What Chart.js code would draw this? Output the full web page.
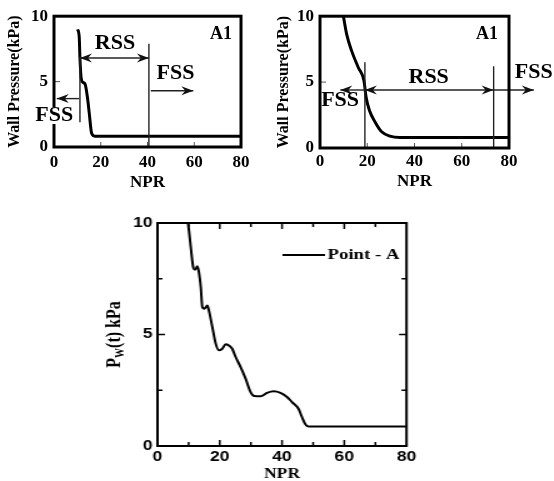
<!DOCTYPE html>
<html>
<head>
<meta charset="utf-8">
<script src="https://cdn.jsdelivr.net/npm/chart.js@4.4.1/dist/chart.umd.min.js"></script>
<style>
  html, body { margin: 0; padding: 0; background: #fff; }
  body { width: 554px; height: 481px; position: relative; overflow: hidden; }
  canvas { position: absolute; }
  #c1 { left: 0; top: 0; }
  #c2 { left: 277px; top: 0; }
  /* the lower figure is horizontally stretched in the original */
  #c3 { left: 100px; top: 200px; transform: scaleX(1.25); transform-origin: 0 0; }
</style>
</head>
<body>
<canvas id="c1" width="277" height="200"></canvas>
<canvas id="c2" width="277" height="200"></canvas>
<canvas id="c3" width="256" height="281"></canvas>
<script>
const serif = "'Liberation Serif', 'Times New Roman', serif";
const sans = "'Liberation Sans', Arial, sans-serif";

// shared axis ticks
const nprTicks = [0, 20, 40, 60, 80];
const pwTicks = [0, 5, 10];

// top-left panel
const npr1 = [10.1, 10.8, 11.1, 11.6, 12.3, 13.3, 14.3, 15.1, 16.1, 17.5, 80];
const pw1 = [9.0, 8.4, 6.8, 5.3, 4.95, 4.8, 3.8, 2.55, 1.05, 0.83, 0.83];
const sepX1 = [11.1, 40.6];
const sepTop1 = [6.9, 7.9];
const sepBot1 = [1.9, 0];
const arrFrom1 = [11.1, 41.4, 10.7];
const arrTo1 = [40.6, 59.6, 1.2];
const arrY1 = [6.8, 4.3, 3.7];
const arrBoth1 = [true, false, false];
const noteText1 = ['RSS', 'FSS', 'FSS', 'A1'];
const noteX1 = [26.1, 52, 0.1, 71.4];
const noteY1 = [7.9, 5.6, 2.4, 8.6];

// top-right panel
const npr2 = [9.9, 11.3, 13.4, 16.2, 18.6, 19.5, 20.9, 23.3, 26.1, 29.6, 33.9, 80];
const pw2 = [10, 8.62, 7.37, 6.11, 5.11, 3.86, 2.86, 1.98, 1.23, 0.9, 0.8, 0.8];
const sepX2 = [19, 73.5];
const sepTop2 = [6.5, 6.2];
const sepBot2 = [0, 0];
const arrFrom2 = [19, 19, 73.5];
const arrTo2 = [73.5, 8.6, 90.5];
const arrY2 = [4.4, 4.4, 4.4];
const arrBoth2 = [true, false, false];
const noteText2 = ['RSS', 'FSS', 'FSS', 'A1'];
const noteX2 = [46, 90.5, 8.5, 70.7];
const noteY2 = [5.4, 5.75, 3.6, 8.6];

// bottom panel
const npr3 = [9.8, 10.1, 10.7, 11.5, 12.1, 12.8, 13.3, 13.9, 14.4, 15.1, 16.0, 16.5, 17.6, 18.7, 19.7, 20.8,
  21.9, 22.9, 24.0, 25.1, 26.7, 28.3, 29.9, 31.1, 33.1, 35.2, 37.3, 39.5, 41.6, 43.2, 45.3, 46.4, 47.5, 48.5, 80];
const pw3 = [10.0, 9.67, 8.9, 8.0, 7.9, 8.06, 7.8, 7.13, 6.23, 6.16, 6.3, 6.08, 5.34, 4.59, 4.29, 4.36,
  4.56, 4.51, 4.36, 3.99, 3.54, 3.02, 2.42, 2.24, 2.23, 2.38, 2.45, 2.38, 2.2, 1.97, 1.67, 1.3, 0.97, 0.88, 0.88];
const minorX3 = [10, 30, 50, 70];
const minorY3 = [2.5, 7.5];
const seriesName3 = 'Point - A';

function arrowHead(ctx, px, py, dir) {
  ctx.beginPath();
  ctx.moveTo(px, py);
  ctx.lineTo(px - dir * 12, py - 4.5);
  ctx.lineTo(px - dir * 8, py);
  ctx.lineTo(px - dir * 12, py + 4.5);
  ctx.closePath();
  ctx.fill();
}

function topDecor(d) {
  return {
    id: 'topDecor',
    afterDatasetsDraw(chart) {
      const { ctx, chartArea: a, scales: { x, y } } = chart;
      ctx.save();
      ctx.strokeStyle = '#222';
      ctx.fillStyle = '#111';
      ctx.lineWidth = 1.4;
      d.sepX.forEach((v, i) => {
        const px = x.getPixelForValue(v);
        ctx.beginPath();
        ctx.moveTo(px, y.getPixelForValue(d.sepTop[i]));
        ctx.lineTo(px, y.getPixelForValue(d.sepBot[i]));
        ctx.stroke();
      });
      d.arrFrom.forEach((v, i) => {
        const x0 = x.getPixelForValue(v), x1 = x.getPixelForValue(d.arrTo[i]);
        const py = y.getPixelForValue(d.arrY[i]);
        ctx.beginPath();
        ctx.moveTo(x0, py);
        ctx.lineTo(x1, py);
        ctx.stroke();
        arrowHead(ctx, x1, py, Math.sign(x1 - x0));
        if (d.arrBoth[i]) arrowHead(ctx, x0, py, Math.sign(x0 - x1));
      });

      // small inward ticks
      ctx.strokeStyle = '#555';
      ctx.lineWidth = 1;
      [20, 40, 60].forEach(v => {
        const px = x.getPixelForValue(v);
        ctx.beginPath(); ctx.moveTo(px, a.bottom); ctx.lineTo(px, a.bottom - 5); ctx.stroke();
      });
      const p5 = y.getPixelForValue(5);
      ctx.beginPath(); ctx.moveTo(a.left, p5); ctx.lineTo(a.left + 6, p5); ctx.stroke();

      // frame
      ctx.strokeStyle = '#000';
      ctx.lineWidth = 3;
      ctx.strokeRect(a.left, a.top, a.right - a.left, a.bottom - a.top);

      // labels
      ctx.textAlign = 'center';
      ctx.textBaseline = 'middle';
      d.noteText.forEach((t, i) => {
        const px = x.getPixelForValue(d.noteX[i]), py = y.getPixelForValue(d.noteY[i]);
        const size = t === 'A1' ? 18 : 22;
        ctx.font = `bold ${size}px ${serif}`;
        if (d.whiteBg) {
          const w = ctx.measureText(t).width;
          ctx.fillStyle = '#fff';
          ctx.fillRect(px - w / 2 - 1, py - size * 0.38, w + 2, size * 0.76);
        }
        ctx.fillStyle = '#000';
        ctx.fillText(t, px, py);
      });
      ctx.restore();
    }
  };
}

function topChart(id, npr, pw, lay, decor) {
  return new Chart(document.getElementById(id), {
    type: 'line',
    data: {
      datasets: [{
        data: npr.map((v, i) => ({ x: v, y: pw[i] })),
        borderColor: '#000',
        borderWidth: 3,
        pointRadius: 0,
        cubicInterpolationMode: 'monotone'
      }]
    },
    options: {
      responsive: false,
      animation: false,
      events: [],
      layout: { padding: { left: 0, top: 15, right: lay.right, bottom: 0 } },
      plugins: { legend: { display: false }, tooltip: { enabled: false } },
      scales: {
        x: {
          type: 'linear', min: 0, max: 80,
          afterBuildTicks: s => { s.ticks = nprTicks.map(v => ({ value: v })); },
          afterFit: s => { s.height = lay.xH; },
          grid: { display: false, drawTicks: false },
          border: { display: false },
          ticks: { color: '#000', padding: lay.xTickPad, maxRotation: 0, font: { family: serif, size: 17, weight: 'bold' } },
          title: { display: true, text: 'NPR', color: '#000', padding: { top: 0, bottom: lay.xTitlePad },
            font: { family: serif, size: 17, weight: 'bold' } }
        },
        y: {
          type: 'linear', min: 0, max: 10,
          afterBuildTicks: s => { s.ticks = pwTicks.map(v => ({ value: v })); },
          afterFit: s => { s.width = lay.yW; },
          grid: { display: false, drawTicks: false },
          border: { display: false },
          ticks: { color: '#000', padding: 6, font: { family: serif, size: 17, weight: 'bold' } },
          title: { display: true, text: 'Wall Pressure(kPa)', color: '#000', padding: { top: lay.yTitlePad, bottom: 0 },
            font: { family: serif, size: 16, weight: 'bold', lineHeight: lay.yTitleLH } }
        }
      }
    },
    plugins: [decor]
  });
}

topChart('c1', npr1, pw1,
  { right: 36, xH: 53, yW: 54, xTickPad: 5, xTitlePad: 7, yTitlePad: 5, yTitleLH: 1.2 },
  topDecor({ sepX: sepX1, sepTop: sepTop1, sepBot: sepBot1, arrFrom: arrFrom1, arrTo: arrTo1, arrY: arrY1,
    arrBoth: arrBoth1, noteText: noteText1, noteX: noteX1, noteY: noteY1, whiteBg: true }));

topChart('c2', npr2, pw2,
  { right: 45, xH: 52, yW: 43, xTickPad: 3, xTitlePad: 8, yTitlePad: 0, yTitleLH: 0.8 },
  topDecor({ sepX: sepX2, sepTop: sepTop2, sepBot: sepBot2, arrFrom: arrFrom2, arrTo: arrTo2, arrY: arrY2,
    arrBoth: arrBoth2, noteText: noteText2, noteX: noteX2, noteY: noteY2, whiteBg: false }));

// bottom panel: frame, mirrored inward ticks, y title with subscript, inset legend
const bottomDecor = {
  id: 'bottomDecor',
  afterDatasetsDraw(chart) {
    const { ctx, chartArea: a, scales: { x, y } } = chart;
    ctx.save();
    ctx.strokeStyle = '#000';
    ctx.lineWidth = 1.5;
    const tick = (x0, y0, x1, y1) => { ctx.beginPath(); ctx.moveTo(x0, y0); ctx.lineTo(x1, y1); ctx.stroke(); };
    [20, 40, 60].forEach(v => { const p = x.getPixelForValue(v); tick(p, a.bottom, p, a.bottom - 6); tick(p, a.top, p, a.top + 6); });
    minorX3.forEach(v => { const p = x.getPixelForValue(v); tick(p, a.bottom, p, a.bottom - 4); tick(p, a.top, p, a.top + 4); });
    [5].forEach(v => { const p = y.getPixelForValue(v); tick(a.left, p, a.left + 6, p); tick(a.right, p, a.right - 6, p); });
    minorY3.forEach(v => { const p = y.getPixelForValue(v); tick(a.left, p, a.left + 4, p); tick(a.right, p, a.right - 4, p); });

    ctx.lineWidth = 2;
    ctx.strokeRect(a.left, a.top, a.right - a.left, a.bottom - a.top);

    // legend
    ctx.beginPath(); ctx.moveTo(146, 55); ctx.lineTo(180, 55); ctx.stroke();
    ctx.fillStyle = '#000';
    ctx.font = `bold 15px ${serif}`;
    ctx.textAlign = 'left';
    ctx.textBaseline = 'middle';
    ctx.fillText(chart.data.datasets[0].label, 182, 55.5);

    // y title  P_W(t) kPa
    ctx.translate(12, (a.top + a.bottom) / 2);
    ctx.rotate(-Math.PI / 2);
    const big = `bold 16px ${serif}`, small = `bold 10px ${serif}`;
    ctx.font = big; const wP = ctx.measureText('P').width; const wR = ctx.measureText('(t) kPa').width;
    ctx.font = small; const wW = ctx.measureText('W').width;
    let cx = -(wP + wW + wR) / 2;
    ctx.font = big; ctx.fillText('P', cx, 0); cx += wP;
    ctx.font = small; ctx.fillText('W', cx, 4); cx += wW;
    ctx.font = big; ctx.fillText('(t) kPa', cx, 0);
    ctx.restore();
  }
};

new Chart(document.getElementById('c3'), {
  type: 'line',
  data: {
    datasets: [{
      label: seriesName3,
      data: npr3.map((v, i) => ({ x: v, y: pw3[i] })),
      borderColor: '#000',
      borderWidth: 2,
      pointRadius: 0,
      cubicInterpolationMode: 'monotone'
    }]
  },
  options: {
    responsive: false,
    animation: false,
    events: [],
    layout: { padding: { left: 0, top: 23, right: 10, bottom: 0 } },
    plugins: { legend: { display: false }, tooltip: { enabled: false } },
    scales: {
      x: {
        type: 'linear', min: 0, max: 80,
        afterBuildTicks: s => { s.ticks = nprTicks.map(v => ({ value: v })); },
        afterFit: s => { s.height = 35; },
        grid: { display: false, drawTicks: false },
        border: { display: false },
        ticks: { color: '#000', padding: 3, maxRotation: 0, font: { family: sans, size: 14, weight: 'bold' } },
        title: { display: true, text: 'NPR', color: '#000', padding: { top: 0, bottom: 0 },
          font: { family: serif, size: 14, weight: 'bold', lineHeight: 1 } }
      },
      y: {
        type: 'linear', min: 0, max: 10,
        afterBuildTicks: s => { s.ticks = pwTicks.map(v => ({ value: v })); },
        afterFit: s => { s.width = 46; },
        grid: { display: false, drawTicks: false },
        border: { display: false },
        ticks: { color: '#000', padding: 4, font: { family: sans, size: 14, weight: 'bold' } },
        title: { display: false }
      }
    }
  },
  plugins: [bottomDecor]
});
</script>
</body>
</html>
